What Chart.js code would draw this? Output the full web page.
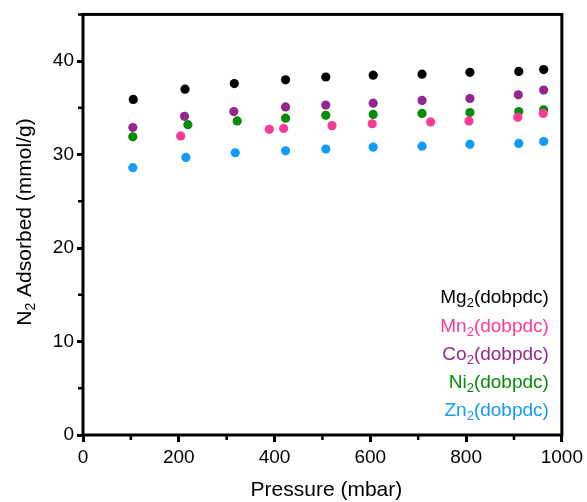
<!DOCTYPE html>
<html>
<head>
<meta charset="utf-8">
<script src="https://cdn.jsdelivr.net/npm/chart.js@4"></script>
<style>
  html, body { margin: 0; padding: 0; background: #fff; }
  #wrap { width: 587px; height: 502px; }
</style>
</head>
<body>
<div id="wrap"><canvas id="n2Chart" width="587" height="502"></canvas></div>
<script>
// pressure (mbar) and uptake (mmol/g)
const pressMg = [105, 213, 316, 423, 507, 606, 708, 808, 910, 962];
const mgVals  = [35.9, 37.0, 37.6, 38.0, 38.3, 38.5, 38.6, 38.8, 38.9, 39.1];

const pressMn = [204, 389, 419, 520, 604, 726, 806, 908, 961];
const mnVals  = [32.0, 32.7, 32.8, 33.1, 33.3, 33.5, 33.6, 34.0, 34.4];

const pressCo = [104, 212, 315, 423, 507, 606, 708, 808, 909, 962];
const coVals  = [32.9, 34.1, 34.6, 35.1, 35.3, 35.5, 35.8, 36.0, 36.4, 36.9];

const pressNi = [104, 219, 322, 423, 507, 606, 708, 808, 910, 962];
const niVals  = [31.9, 33.2, 33.6, 33.9, 34.2, 34.3, 34.4, 34.5, 34.6, 34.8];

const pressZn = [104, 215, 318, 423, 507, 606, 708, 808, 910, 962];
const znVals  = [28.6, 29.7, 30.2, 30.4, 30.6, 30.8, 30.9, 31.1, 31.2, 31.4];

const seriesNames = [['Mg', '2', '(dobpdc)'], ['Mn', '2', '(dobpdc)'], ['Co', '2', '(dobpdc)'], ['Ni', '2', '(dobpdc)'], ['Zn', '2', '(dobpdc)']];
const colors = ['#000000', '#fb3a96', '#92278f', '#078a07', '#119bf8'];

const xTickLabels = [0, 200, 400, 600, 800, 1000];
const yTickLabels = [0, 10, 20, 30, 40];

const FONT = '"Liberation Sans", Arial, Helvetica, sans-serif';

function pts(xs, ys) {
    return xs.map((x, i) => ({ x: x, y: ys[i] }));
}

// text with a subscript in the middle: parts = [before, sub, after]
function drawSub(ctx, parts, x, y, size, align) {
    const big = size + 'px ' + FONT;
    const small = Math.round(size * 0.68) + 'px ' + FONT;
    ctx.font = big;
    const w0 = ctx.measureText(parts[0]).width;
    const w2 = ctx.measureText(parts[2]).width;
    ctx.font = small;
    const w1 = ctx.measureText(parts[1]).width;
    const total = w0 + w1 + w2;
    let sx = align === 'right' ? x - total : (align === 'center' ? x - total / 2 : x);
    ctx.textBaseline = 'middle';
    ctx.textAlign = 'left';
    ctx.font = big;
    ctx.fillText(parts[0], sx, y);
    ctx.font = small;
    ctx.fillText(parts[1], sx + w0, y + size * 0.3);
    ctx.font = big;
    ctx.fillText(parts[2], sx + w0 + w1, y);
}

const decorPlugin = {
    id: 'decor',
    afterDraw(chart) {
        const ctx = chart.ctx;
        const a = chart.chartArea;
        const xs = chart.scales.x, ys = chart.scales.y;
        ctx.save();
        // frame
        ctx.strokeStyle = '#000';
        ctx.lineWidth = 3;
        ctx.strokeRect(a.left, a.top, a.right - a.left, a.bottom - a.top);

        // minor ticks (shorter than the major ones)
        ctx.lineWidth = 2.5;
        ctx.beginPath();
        for (let v = 100; v < 1000; v += 200) {
            const px = xs.getPixelForValue(v);
            ctx.moveTo(px, a.bottom);
            ctx.lineTo(px, a.bottom + 5);
        }
        for (let v = 5; v <= 45; v += 10) {
            const py = ys.getPixelForValue(v);
            ctx.moveTo(a.left, py);
            ctx.lineTo(a.left - 5, py);
        }
        ctx.stroke();

        // legend text inside the plot
        seriesNames.forEach((p, i) => {
            ctx.fillStyle = colors[i];
            drawSub(ctx, p, a.right - 13, a.bottom - 137 + i * 28.3, 19, 'right');
        });

        // x title
        ctx.fillStyle = '#000';
        ctx.font = '21px ' + FONT;
        ctx.textAlign = 'center';
        ctx.textBaseline = 'middle';
        ctx.fillText('Pressure (mbar)', (a.left + a.right) / 2 + 4, 490);

        // y title (rotated)
        ctx.translate(25, 222);
        ctx.rotate(-Math.PI / 2);
        drawSub(ctx, ['N', '2', ' Adsorbed (mmol/g)'], 0, 0, 21, 'center');
        ctx.restore();
    }
};

new Chart(document.getElementById('n2Chart'), {
    type: 'scatter',
    data: {
        datasets: [
            { label: 'Mg2(dobpdc)', data: pts(pressMg, mgVals), backgroundColor: colors[0] },
            { label: 'Mn2(dobpdc)', data: pts(pressMn, mnVals), backgroundColor: colors[1] },
            { label: 'Co2(dobpdc)', data: pts(pressCo, coVals), backgroundColor: colors[2] },
            { label: 'Ni2(dobpdc)', data: pts(pressNi, niVals), backgroundColor: colors[3] },
            { label: 'Zn2(dobpdc)', data: pts(pressZn, znVals), backgroundColor: colors[4] }
        ].map(d => Object.assign(d, { pointRadius: 4.6, pointBorderWidth: 0, borderColor: d.backgroundColor }))
    },
    options: {
        responsive: false,
        animation: false,
        layout: { padding: { top: 13, right: 25, left: 0, bottom: 0 } },
        plugins: {
            legend: { display: false },
            tooltip: { enabled: false }
        },
        scales: {
            x: {
                type: 'linear',
                min: 0,
                max: 1000,
                afterFit(axis) { axis.height = 67; },
                border: { display: false },
                grid: {
                    drawOnChartArea: false, tickLength: 7, tickWidth: 3,
                    tickColor: c => (c.tick && xTickLabels.includes(c.tick.value)) ? '#000' : 'rgba(0,0,0,0)'
                },
                ticks: {
                    stepSize: 100,
                    color: '#000',
                    padding: 4,
                    maxRotation: 0,
                    font: { family: FONT, size: 19 },
                    callback: v => xTickLabels.includes(v) ? String(v) : ''
                }
            },
            y: {
                min: 0,
                max: 45,
                afterFit(axis) { axis.width = 83; },
                border: { display: false },
                grid: {
                    drawOnChartArea: false, tickLength: 6, tickWidth: 3,
                    tickColor: c => (c.tick && yTickLabels.includes(c.tick.value)) ? '#000' : 'rgba(0,0,0,0)'
                },
                ticks: {
                    stepSize: 5,
                    color: '#000',
                    padding: 3,
                    font: { family: FONT, size: 19 },
                    callback: v => yTickLabels.includes(v) ? String(v) : ''
                }
            }
        }
    },
    plugins: [decorPlugin]
});
</script>
</body>
</html>
